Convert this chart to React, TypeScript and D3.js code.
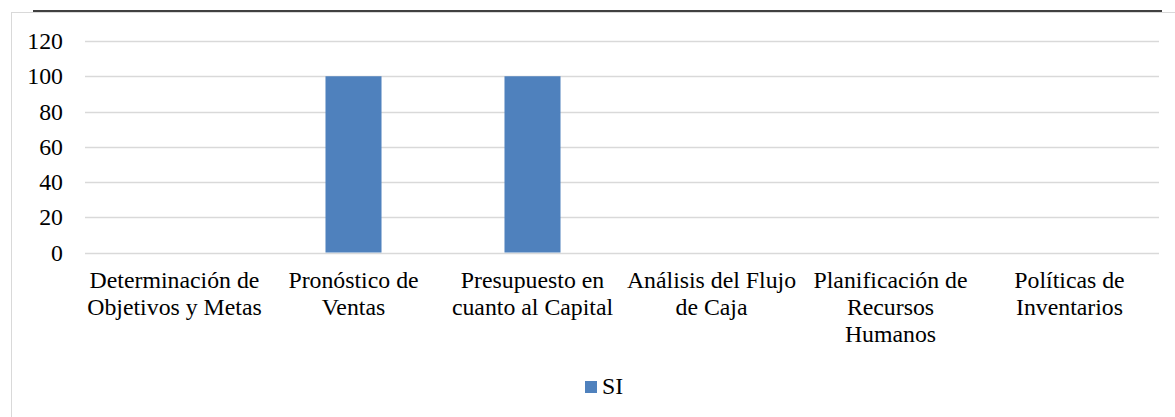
import React from "react";
import * as d3 from "d3";

const categories: string[][] = [
  ["Determinación de", "Objetivos y Metas"],
  ["Pronóstico de", "Ventas"],
  ["Presupuesto en", "cuanto al Capital"],
  ["Análisis del Flujo", "de Caja"],
  ["Planificación de", "Recursos", "Humanos"],
  ["Políticas de", "Inventarios"],
];
const categoryKeys = categories.map((c) => c.join(" "));
const siValues: number[] = [0, 100, 100, 0, 0, 0];
const yTicks: number[] = [0, 20, 40, 60, 80, 100, 120];
const seriesName = "SI";

const W = 1175;
const H = 417;
const plotLeft = 85;
const plotRight = 1159;
const plotTop = 41;
const plotBottom = 252.5;
const font = "Liberation Serif";
const fs = 23.8;
const barColor = "#4f81bd";
const gridColor = "#d9d9d9";
const textStyle: React.CSSProperties = { fontFamily: font, fontSize: fs };

export default function App() {
  const x = d3
    .scaleBand<string>()
    .domain(categoryKeys)
    .range([plotLeft, plotRight])
    .paddingInner(0.687)
    .paddingOuter(0.3435);
  const xc = d3.scaleBand<string>().domain(categoryKeys).range([plotLeft, plotRight]);
  const y = d3.scaleLinear().domain([0, 120]).range([plotBottom, plotTop]);

  return (
    <svg width={W} height={H} style={{ position: "absolute", left: 0, top: 0, background: "#fff" }}>
      <rect x={11.5} y={12.5} width={W + 10} height={H + 10} fill="#fff" stroke={gridColor} strokeWidth={1} />
      <line x1={33} x2={1162} y1={11} y2={11} stroke="#000" strokeWidth={1.3} />
      {yTicks.map((t) => (
        <g key={t}>
          <line
            x1={plotLeft}
            x2={plotRight}
            y1={Math.round(y(t)) + 0.5}
            y2={Math.round(y(t)) + 0.5}
            stroke={gridColor}
            strokeWidth={1.3}
          />
          <text x={63} y={y(t) + 8} textAnchor="end" style={textStyle} fill="#000">
            {t}
          </text>
        </g>
      ))}
      {siValues.map((v, i) =>
        v > 0 ? (
          <rect
            key={i}
            x={x(categoryKeys[i])}
            y={y(v)}
            width={x.bandwidth()}
            height={y(0) - y(v)}
            fill={barColor}
          />
        ) : null
      )}
      {categories.map((lines, i) => (
        <text
          key={i}
          x={(xc(categoryKeys[i]) as number) + xc.bandwidth() / 2}
          y={288}
          textAnchor="middle"
          style={textStyle}
          fill="#000"
        >
          {lines.map((l, j) => (
            <tspan key={j} x={(xc(categoryKeys[i]) as number) + xc.bandwidth() / 2} y={288 + j * 27}>
              {l}
            </tspan>
          ))}
        </text>
      ))}
      <rect x={585} y={381} width={12} height={12} fill={barColor} />
      <text x={602} y={394} style={textStyle} fill="#000">
        {seriesName}
      </text>
    </svg>
  );
}
